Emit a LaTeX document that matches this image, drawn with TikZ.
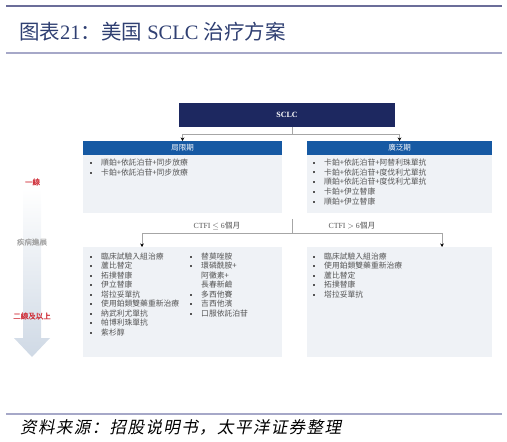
\documentclass[tikz,border=0pt]{standalone}
\usepackage{fontspec}
\setmainfont{Liberation Serif}
\newfontfamily\cjksc{Noto Sans CJK SC}
\newfontfamily\cjktc{Noto Sans CJK TC}
\newfontfamily\cjkbf[FakeBold=1.2]{Noto Sans CJK TC}
\newfontfamily\cjkit[FakeSlant=0.2,LetterSpace=8.5]{Noto Sans CJK SC}
\usetikzlibrary{arrows.meta,positioning,calc}
\definecolor{navy}{HTML}{1D2860}
\definecolor{hdrblue}{HTML}{1659A3}
\definecolor{bodyfill}{HTML}{EFF2F6}
\definecolor{txtgray}{HTML}{555555}
\definecolor{linered}{HTML}{D0343E}
\definecolor{titleblue}{HTML}{2F3F72}
\definecolor{ruledark}{HTML}{6B6D99}
\definecolor{rulelight}{HTML}{A6A8C8}
\definecolor{arrowfill}{HTML}{CFD9E5}
\newcommand{\bul}{\makebox[11bp][l]{\raisebox{1.7bp}{\rule{1.9bp}{1.9bp}}}}
\tikzset{
  hdr/.style={fill=hdrblue, text=white, inner sep=0, outer sep=0, minimum height=14bp,
    font=\cjktc\fontsize{7.5bp}{9bp}\selectfont},
  panel/.style={fill=bodyfill, inner sep=0, outer sep=0},
  item/.style={anchor=west, inner sep=0, text=txtgray, text height=6bp, text depth=1.5bp,
    font=\cjktc\fontsize{7.8bp}{9bp}\selectfont},
  conn/.style={draw=gray!70, line width=0.8bp},
  tip/.style={-{Stealth[length=3.5bp,width=3.5bp,black]}},
  side/.style={inner sep=0, font=\cjkbf\fontsize{7.5bp}{9bp}\selectfont},
}
\begin{document}
\begin{tikzpicture}[x=1bp,y=-1bp]
\useasboundingbox (0,0) rectangle (507,442);
% rules and title
\draw[ruledark, line width=2.2bp] (6,6) -- (502,6);
\draw[rulelight, line width=1.2bp] (6,53) -- (502,53);
\draw[rulelight, line width=1.2bp] (6,414) -- (502,414);
\node[anchor=west, inner sep=0, text=titleblue, font=\fontsize{20.5bp}{23bp}\selectfont] (title) at (19,32)
  {{\cjksc 图表}21{\cjksc ：美国} SCLC {\cjksc 治疗方案}};
\node[anchor=west, inner sep=0, font=\cjkit\fontsize{16.5bp}{19bp}\selectfont] (source) at (20,427)
  {资料来源：招股说明书，太平洋证券整理};
% progression arrow
\shade[top color=white, bottom color=arrowfill]
  (23,188) -- (41,188) -- (41,338) -- (50,338) -- (32,357) -- (14,338) -- (23,338) -- cycle;
\node[side, text=linered] (first) at (32.5,182) {一線};
\node[side, text=gray!70] (prog) at (32,242) {疾病進展};
\node[side, text=linered] (second) at (32,316) {二線及以上};
% boxes
\node[fill=navy, text=white, minimum width=216bp, minimum height=24bp, inner sep=0, outer sep=0,
  font=\bfseries\fontsize{8bp}{10bp}\selectfont] (sclc) at (287,115) {SCLC};
\node[hdr, minimum width=199bp] (lim) at (182.5,148) {局限期};
\node[panel, minimum width=199bp, minimum height=58bp, below=0pt of lim] (limb) {};
\node[hdr, minimum width=185bp] (ext) at (399.5,148) {廣泛期};
\node[panel, minimum width=185bp, minimum height=58bp, below=0pt of ext] (extb) {};
\node[panel, minimum width=199bp, minimum height=110bp] (botl) at (182.5,302) {};
\node[panel, minimum width=185bp, minimum height=110bp] (botr) at (399.5,302) {};
% connectors
\draw[conn] ([xshift=5bp]sclc.south) -- ++(0,7) coordinate (split);
\draw[conn, tip] (split) -| (lim.north);
\draw[conn, tip] (split) -| (ext.north);
\coordinate (ctfi) at (292,219);
\draw[conn] (ctfi) -- ++(0,14) coordinate (fork);
\coordinate (inl) at ($(botl.north west)+(59,0)$);
\coordinate (inr) at ($(botr.north west)+(135,0)$);
\draw[conn, tip] (fork) -| (inl);
\draw[conn, tip] (fork) -| (inr);
\node[item, anchor=center, font=\fontsize{7.8bp}{9bp}\selectfont] (le) at (217,226) {CTFI $\leq$ 6{\cjktc 個月}};
\node[item, anchor=center, font=\fontsize{7.8bp}{9bp}\selectfont] (gt) at (352,226) {CTFI $>$ 6{\cjktc 個月}};
% first line
\foreach \t [count=\i from 0] in {順鉑+依託泊苷+同步放療, 卡鉑+依託泊苷+同步放療}
  \node[item] (lim\i) at (90,163+10*\i) {\bul\t};
\foreach \t [count=\i from 0] in {卡鉑+依託泊苷+阿替利珠單抗, 卡鉑+依託泊苷+度伐利尤單抗,
    順鉑+依託泊苷+度伐利尤單抗, 卡鉑+伊立替康, 順鉑+伊立替康}
  \node[item] (ext\i) at (313,163+9.8*\i) {\bul\t};
% second line and beyond
\foreach \t [count=\i from 0] in {臨床試驗入組治療, 蘆比替定, 拓撲替康, 伊立替康, 塔拉妥單抗,
    使用鉑類雙藥重新治療, 納武利尤單抗, 帕博利珠單抗, 紫杉醇}
  \node[item] (le\i) at (90,257+9.5*\i) {\bul\t};
\node[item] (lec0) at (190,257) {\bul 替莫唑胺};
\node[item] (lec1) at (190,266.5) {\bul 環磷酰胺+};
\node[item] (lec2) at (201,276) {阿黴素+};
\node[item] (lec3) at (201,285.5) {長春新鹼};
\node[item] (lec4) at (190,295) {\bul 多西他賽};
\node[item] (lec5) at (190,304.5) {\bul 吉西他濱};
\node[item] (lec6) at (190,314) {\bul 口服依託泊苷};
\foreach \t [count=\i from 0] in {臨床試驗入組治療, 使用鉑類雙藥重新治療, 蘆比替定, 拓撲替康, 塔拉妥單抗}
  \node[item] (gt\i) at (313,257+9.5*\i) {\bul\t};
\end{tikzpicture}
\end{document}
